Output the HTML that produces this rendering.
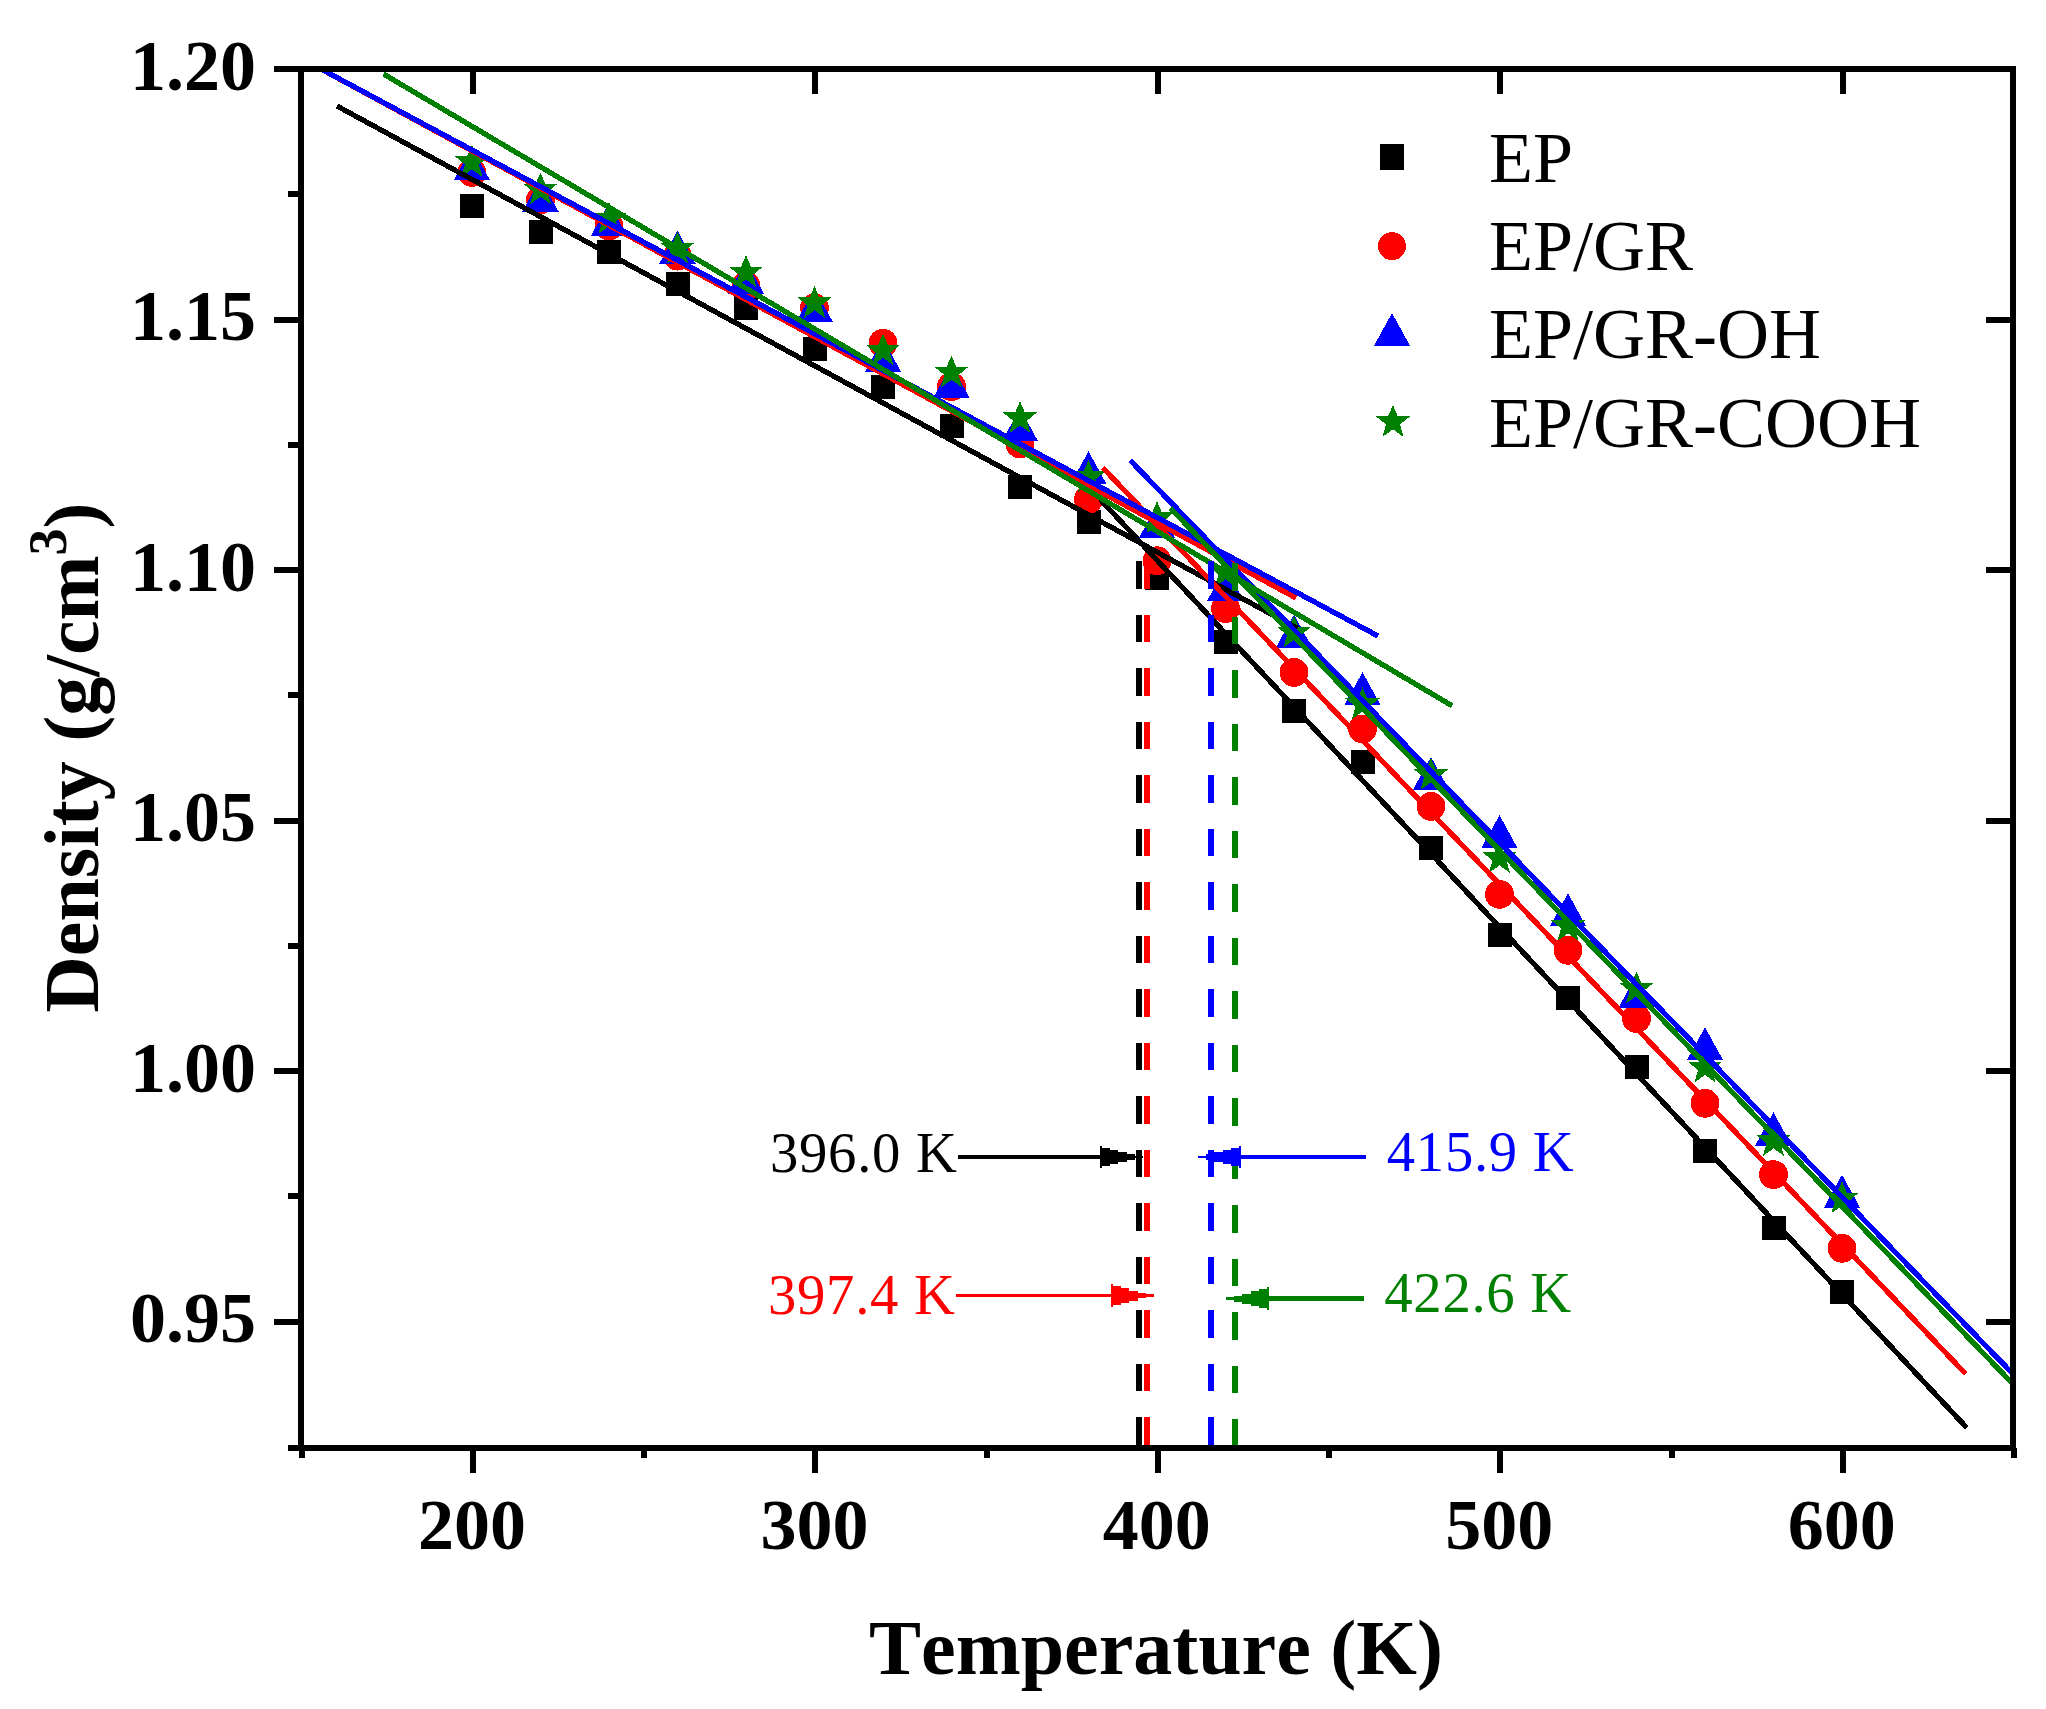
<!DOCTYPE html>
<html lang="en"><head><meta charset="utf-8"><title>Density vs Temperature</title>
<style>html,body{margin:0;padding:0;background:#fff}svg{display:block}text{font-family:"Liberation Serif",serif;font-kerning:none}.b{font-weight:bold}.tk{font-size:72px;font-weight:bold}.lg{font-size:72px}.an{font-size:56.7px;letter-spacing:0.7px}.ti{font-size:78px;font-weight:bold}</style></head><body>
<svg width="2046" height="1709" viewBox="0 0 2046 1709">
<rect width="2046" height="1709" fill="#fff"/>
<defs><clipPath id="cp"><rect x="298.0" y="66.0" width="1718.0" height="1385.0"/></clipPath></defs>
<g clip-path="url(#cp)" shape-rendering="crispEdges">
<rect x="459.9" y="194.1" width="24" height="24" fill="#000000"/>
<rect x="528.5" y="220.1" width="24" height="24" fill="#000000"/>
<rect x="597" y="240.1" width="24" height="24" fill="#000000"/>
<rect x="665.5" y="272.1" width="24" height="24" fill="#000000"/>
<rect x="734" y="295.7" width="24" height="24" fill="#000000"/>
<rect x="802.5" y="337.3" width="24" height="24" fill="#000000"/>
<rect x="871" y="375.3" width="24" height="24" fill="#000000"/>
<rect x="939.5" y="414.3" width="24" height="24" fill="#000000"/>
<rect x="1008" y="475.3" width="24" height="24" fill="#000000"/>
<rect x="1076.5" y="510.2" width="24" height="24" fill="#000000"/>
<rect x="1145" y="565.8" width="24" height="24" fill="#000000"/>
<rect x="1213.5" y="629.6" width="24" height="24" fill="#000000"/>
<rect x="1282" y="699.2" width="24" height="24" fill="#000000"/>
<rect x="1350.5" y="750.2" width="24" height="24" fill="#000000"/>
<rect x="1419" y="836.4" width="24" height="24" fill="#000000"/>
<rect x="1487.5" y="923.4" width="24" height="24" fill="#000000"/>
<rect x="1556" y="986.4" width="24" height="24" fill="#000000"/>
<rect x="1624.5" y="1054.5" width="24" height="24" fill="#000000"/>
<rect x="1693" y="1138.5" width="24" height="24" fill="#000000"/>
<rect x="1761.5" y="1215.6" width="24" height="24" fill="#000000"/>
<rect x="1830" y="1280.4" width="24" height="24" fill="#000000"/>
<circle cx="471.9" cy="172.5" r="14.4" fill="#ff0000"/>
<circle cx="540.5" cy="199.9" r="14.4" fill="#ff0000"/>
<circle cx="609" cy="226" r="14.4" fill="#ff0000"/>
<circle cx="677.5" cy="256.1" r="14.4" fill="#ff0000"/>
<circle cx="746" cy="286" r="14.4" fill="#ff0000"/>
<circle cx="814.5" cy="307.8" r="14.4" fill="#ff0000"/>
<circle cx="883" cy="343.2" r="14.4" fill="#ff0000"/>
<circle cx="951.5" cy="386.6" r="14.4" fill="#ff0000"/>
<circle cx="1020" cy="444" r="14.4" fill="#ff0000"/>
<circle cx="1088.5" cy="499.5" r="14.4" fill="#ff0000"/>
<circle cx="1157" cy="560.7" r="14.4" fill="#ff0000"/>
<circle cx="1225.5" cy="608.5" r="14.4" fill="#ff0000"/>
<circle cx="1294" cy="672.4" r="14.4" fill="#ff0000"/>
<circle cx="1362.5" cy="729" r="14.4" fill="#ff0000"/>
<circle cx="1431" cy="806.4" r="14.4" fill="#ff0000"/>
<circle cx="1499.5" cy="894.4" r="14.4" fill="#ff0000"/>
<circle cx="1568" cy="950.3" r="14.4" fill="#ff0000"/>
<circle cx="1636.5" cy="1018.5" r="14.4" fill="#ff0000"/>
<circle cx="1705" cy="1103.3" r="14.4" fill="#ff0000"/>
<circle cx="1773.5" cy="1174.6" r="14.4" fill="#ff0000"/>
<circle cx="1842" cy="1248.3" r="14.4" fill="#ff0000"/>
<polygon points="471.9,147.2 490.1,180.3 453.8,180.3" fill="#0000ff"/>
<polygon points="540.5,178.7 558.7,211.8 522.2,211.8" fill="#0000ff"/>
<polygon points="609,202.8 627.2,235.9 590.8,235.9" fill="#0000ff"/>
<polygon points="677.5,230.6 695.7,263.7 659.2,263.7" fill="#0000ff"/>
<polygon points="746,261.1 764.2,294.2 727.8,294.2" fill="#0000ff"/>
<polygon points="814.5,288.5 832.7,321.6 796.2,321.6" fill="#0000ff"/>
<polygon points="883,338.8 901.2,371.9 864.8,371.9" fill="#0000ff"/>
<polygon points="951.5,364.8 969.7,397.9 933.2,397.9" fill="#0000ff"/>
<polygon points="1020,408.3 1038.2,441.4 1001.8,441.4" fill="#0000ff"/>
<polygon points="1088.5,451.3 1106.7,484.4 1070.2,484.4" fill="#0000ff"/>
<polygon points="1157,505.1 1175.2,538.2 1138.8,538.2" fill="#0000ff"/>
<polygon points="1225.5,567.4 1243.7,600.5 1207.2,600.5" fill="#0000ff"/>
<polygon points="1294,614.6 1312.2,647.7 1275.8,647.7" fill="#0000ff"/>
<polygon points="1362.5,672.2 1380.7,705.3 1344.2,705.3" fill="#0000ff"/>
<polygon points="1431,756.8 1449.2,789.9 1412.8,789.9" fill="#0000ff"/>
<polygon points="1499.5,815.2 1517.7,848.3 1481.2,848.3" fill="#0000ff"/>
<polygon points="1568,893.2 1586.2,926.3 1549.8,926.3" fill="#0000ff"/>
<polygon points="1636.5,975.1 1654.7,1008.2 1618.2,1008.2" fill="#0000ff"/>
<polygon points="1705,1027.2 1723.2,1060.3 1686.8,1060.3" fill="#0000ff"/>
<polygon points="1773.5,1112.4 1791.7,1145.5 1755.2,1145.5" fill="#0000ff"/>
<polygon points="1842,1174.7 1860.2,1207.8 1823.8,1207.8" fill="#0000ff"/>
<polygon points="471.9,145 476.8,156.2 489.1,156.2 478.9,164.5 482.6,177 471.9,169.4 461.3,177 464.9,164.5 454.8,156.2 467.1,156.2" fill="#008000"/>
<polygon points="540.5,172.5 545.2,183.7 557.7,183.7 547.5,192 551.1,204.5 540.5,196.9 529.9,204.5 533.5,192 523.2,183.7 535.7,183.7" fill="#008000"/>
<polygon points="609,202 613.8,213.2 626.2,213.2 616,221.5 619.6,234 609,226.4 598.4,234 602,221.5 591.8,213.2 604.2,213.2" fill="#008000"/>
<polygon points="677.5,231.5 682.2,242.7 694.7,242.7 684.5,251 688.1,263.5 677.5,255.9 666.9,263.5 670.5,251 660.2,242.7 672.7,242.7" fill="#008000"/>
<polygon points="746,255.3 750.8,266.5 763.2,266.5 753,274.8 756.6,287.3 746,279.7 735.4,287.3 739,274.8 728.8,266.5 741.2,266.5" fill="#008000"/>
<polygon points="814.5,286 819.2,297.2 831.7,297.2 821.5,305.5 825.1,318 814.5,310.4 803.9,318 807.5,305.5 797.2,297.2 809.7,297.2" fill="#008000"/>
<polygon points="883,333.5 887.8,344.7 900.2,344.7 890,353 893.6,365.5 883,357.9 872.4,365.5 876,353 865.8,344.7 878.2,344.7" fill="#008000"/>
<polygon points="951.5,355.5 956.2,366.7 968.7,366.7 958.5,375 962.1,387.5 951.5,379.9 940.9,387.5 944.5,375 934.2,366.7 946.7,366.7" fill="#008000"/>
<polygon points="1020,401.1 1024.8,412.3 1037.2,412.3 1027,420.6 1030.5,433.1 1020,425.5 1009.4,433.1 1013,420.6 1002.8,412.3 1015.2,412.3" fill="#008000"/>
<polygon points="1088.5,460 1093.2,471.2 1105.7,471.2 1095.5,479.5 1099,492 1088.5,484.4 1077.9,492 1081.5,479.5 1071.2,471.2 1083.7,471.2" fill="#008000"/>
<polygon points="1157,501.1 1161.8,512.3 1174.2,512.3 1164,520.6 1167.5,533.1 1157,525.5 1146.4,533.1 1150,520.6 1139.8,512.3 1152.2,512.3" fill="#008000"/>
<polygon points="1225.5,555 1230.2,566.2 1242.7,566.2 1232.5,574.5 1236,587 1225.5,579.4 1214.9,587 1218.5,574.5 1208.2,566.2 1220.7,566.2" fill="#008000"/>
<polygon points="1294,615.5 1298.8,626.7 1311.2,626.7 1301,635 1304.5,647.5 1294,639.9 1283.4,647.5 1287,635 1276.8,626.7 1289.2,626.7" fill="#008000"/>
<polygon points="1362.5,687.2 1367.2,698.4 1379.7,698.4 1369.5,706.7 1373,719.2 1362.5,711.6 1351.9,719.2 1355.5,706.7 1345.2,698.4 1357.7,698.4" fill="#008000"/>
<polygon points="1431,758 1435.8,769.2 1448.2,769.2 1438,777.5 1441.5,790 1431,782.4 1420.4,790 1424,777.5 1413.8,769.2 1426.2,769.2" fill="#008000"/>
<polygon points="1499.5,841 1504.2,852.2 1516.7,852.2 1506.5,860.5 1510,873 1499.5,865.4 1488.9,873 1492.5,860.5 1482.2,852.2 1494.7,852.2" fill="#008000"/>
<polygon points="1568,909 1572.8,920.2 1585.2,920.2 1575,928.5 1578.5,941 1568,933.4 1557.4,941 1561,928.5 1550.8,920.2 1563.2,920.2" fill="#008000"/>
<polygon points="1636.5,971.6 1641.2,982.8 1653.7,982.8 1643.5,991.1 1647,1003.6 1636.5,996 1625.9,1003.6 1629.5,991.1 1619.2,982.8 1631.7,982.8" fill="#008000"/>
<polygon points="1705,1050.5 1709.8,1061.7 1722.2,1061.7 1712,1070 1715.5,1082.5 1705,1074.9 1694.4,1082.5 1698,1070 1687.8,1061.7 1700.2,1061.7" fill="#008000"/>
<polygon points="1773.5,1124 1778.2,1135.2 1790.7,1135.2 1780.5,1143.5 1784,1156 1773.5,1148.4 1762.9,1156 1766.5,1143.5 1756.2,1135.2 1768.7,1135.2" fill="#008000"/>
<polygon points="1842,1181.3 1846.8,1192.5 1859.2,1192.5 1849,1200.8 1852.5,1213.3 1842,1205.7 1831.4,1213.3 1835,1200.8 1824.8,1192.5 1837.2,1192.5" fill="#008000"/>
<line x1="337" y1="106" x2="1297.5" y2="628.5" stroke="#000000" stroke-width="5.3" stroke-linecap="butt"/>
<line x1="1100.2" y1="499.3" x2="1966.6" y2="1427.6" stroke="#000000" stroke-width="5.3" stroke-linecap="butt"/>
<line x1="321" y1="69" x2="1296" y2="598" stroke="#ff0000" stroke-width="5.3" stroke-linecap="butt"/>
<line x1="1102.9" y1="467.8" x2="1965.6" y2="1373.8" stroke="#ff0000" stroke-width="5.3" stroke-linecap="butt"/>
<line x1="316" y1="66.3" x2="1378" y2="636" stroke="#0000ff" stroke-width="5.3" stroke-linecap="butt"/>
<line x1="1130.3" y1="460.4" x2="2016" y2="1377.1" stroke="#0000ff" stroke-width="5.3" stroke-linecap="butt"/>
<line x1="383.5" y1="74" x2="1452" y2="705.7" stroke="#008000" stroke-width="5.3" stroke-linecap="butt"/>
<line x1="1170.3" y1="508" x2="2016" y2="1387.2" stroke="#008000" stroke-width="5.3" stroke-linecap="butt"/>
<line x1="1139" y1="561" x2="1139" y2="1448" stroke="#000000" stroke-width="6" stroke-dasharray="27.6 25.9"/>
<line x1="1147" y1="561" x2="1147" y2="1448" stroke="#ff0000" stroke-width="6" stroke-dasharray="27.6 25.9"/>
<line x1="1211" y1="561" x2="1211" y2="1448" stroke="#0000ff" stroke-width="6" stroke-dasharray="27.6 25.9"/>
<line x1="1235" y1="563" x2="1235" y2="1448" stroke="#008000" stroke-width="6" stroke-dasharray="27.6 25.9"/>
</g>
<g shape-rendering="crispEdges">
<line x1="958" y1="1157" x2="1102" y2="1157" stroke="#000000" stroke-width="3.6"/>
<polygon points="1100,1145.8 1102,1145.8 1102,1147.7 1110.3,1147.7 1110.3,1149.7 1118.4,1149.7 1118.4,1152 1126.6,1152 1126.6,1154.1 1134.6,1154.1 1134.6,1155.6 1143,1155.6 1143,1158.4 1134.6,1158.4 1134.6,1159.9 1126.6,1159.9 1126.6,1162 1118.4,1162 1118.4,1164.3 1110.3,1164.3 1110.3,1166.3 1102,1166.3 1102,1168.2 1100,1168.2" fill="#000000"/>
<line x1="956" y1="1295.5" x2="1113" y2="1295.5" stroke="#ff0000" stroke-width="3.9"/>
<polygon points="1111,1284.3 1113,1284.3 1113,1286.2 1121.3,1286.2 1121.3,1288.2 1129.4,1288.2 1129.4,1290.5 1137.6,1290.5 1137.6,1292.6 1145.6,1292.6 1145.6,1294.1 1154,1294.1 1154,1296.9 1145.6,1296.9 1145.6,1298.4 1137.6,1298.4 1137.6,1300.5 1129.4,1300.5 1129.4,1302.8 1121.3,1302.8 1121.3,1304.8 1113,1304.8 1113,1306.7 1111,1306.7" fill="#ff0000"/>
<line x1="1366" y1="1157" x2="1239" y2="1157" stroke="#0000ff" stroke-width="4.4"/>
<polygon points="1241,1145.8 1239,1145.8 1239,1147.7 1230.7,1147.7 1230.7,1149.7 1222.6,1149.7 1222.6,1152 1214.4,1152 1214.4,1154.1 1206.4,1154.1 1206.4,1155.6 1198,1155.6 1198,1158.4 1206.4,1158.4 1206.4,1159.9 1214.4,1159.9 1214.4,1162 1222.6,1162 1222.6,1164.3 1230.7,1164.3 1230.7,1166.3 1239,1166.3 1239,1168.2 1241,1168.2" fill="#0000ff"/>
<line x1="1364" y1="1298.6" x2="1267" y2="1298.6" stroke="#008000" stroke-width="4.4"/>
<polygon points="1269,1287.4 1267,1287.4 1267,1289.3 1258.7,1289.3 1258.7,1291.3 1250.6,1291.3 1250.6,1293.6 1242.4,1293.6 1242.4,1295.7 1234.4,1295.7 1234.4,1297.2 1226,1297.2 1226,1300 1234.4,1300 1234.4,1301.5 1242.4,1301.5 1242.4,1303.6 1250.6,1303.6 1250.6,1305.9 1258.7,1305.9 1258.7,1307.9 1267,1307.9 1267,1309.8 1269,1309.8" fill="#008000"/>
</g>
<g stroke="#000" stroke-width="6" fill="none" shape-rendering="crispEdges">
<rect x="301.0" y="69.0" width="1712.0" height="1379.0"/>
<line x1="274" y1="69" x2="301" y2="69"/>
<line x1="274" y1="319.5" x2="301" y2="319.5"/>
<line x1="1986" y1="319.5" x2="2013" y2="319.5"/>
<line x1="274" y1="570" x2="301" y2="570"/>
<line x1="1986" y1="570" x2="2013" y2="570"/>
<line x1="274" y1="820.5" x2="301" y2="820.5"/>
<line x1="1986" y1="820.5" x2="2013" y2="820.5"/>
<line x1="274" y1="1071" x2="301" y2="1071"/>
<line x1="1986" y1="1071" x2="2013" y2="1071"/>
<line x1="274" y1="1321.5" x2="301" y2="1321.5"/>
<line x1="1986" y1="1321.5" x2="2013" y2="1321.5"/>
<line x1="288" y1="194.2" x2="301" y2="194.2"/>
<line x1="288" y1="444.7" x2="301" y2="444.7"/>
<line x1="288" y1="695.2" x2="301" y2="695.2"/>
<line x1="288" y1="945.8" x2="301" y2="945.8"/>
<line x1="288" y1="1196.2" x2="301" y2="1196.2"/>
<line x1="288" y1="1448" x2="301" y2="1448"/>
<line x1="472.9" y1="1448" x2="472.9" y2="1472.5"/>
<line x1="472.9" y1="69" x2="472.9" y2="94"/>
<line x1="815.4" y1="1448" x2="815.4" y2="1472.5"/>
<line x1="815.4" y1="69" x2="815.4" y2="94"/>
<line x1="1157.8" y1="1448" x2="1157.8" y2="1472.5"/>
<line x1="1157.8" y1="69" x2="1157.8" y2="94"/>
<line x1="1500.3" y1="1448" x2="1500.3" y2="1472.5"/>
<line x1="1500.3" y1="69" x2="1500.3" y2="94"/>
<line x1="1842.8" y1="1448" x2="1842.8" y2="1472.5"/>
<line x1="1842.8" y1="69" x2="1842.8" y2="94"/>
<line x1="301.6" y1="1448" x2="301.6" y2="1458"/>
<line x1="644.1" y1="1448" x2="644.1" y2="1458"/>
<line x1="986.6" y1="1448" x2="986.6" y2="1458"/>
<line x1="1329.1" y1="1448" x2="1329.1" y2="1458"/>
<line x1="1671.6" y1="1448" x2="1671.6" y2="1458"/>
<line x1="2014.1" y1="1448" x2="2014.1" y2="1458"/>
</g>
<text class="tk" x="256" y="89.5" text-anchor="end">1.20</text>
<text class="tk" x="256" y="340" text-anchor="end">1.15</text>
<text class="tk" x="256" y="590.5" text-anchor="end">1.10</text>
<text class="tk" x="256" y="841" text-anchor="end">1.05</text>
<text class="tk" x="256" y="1091.5" text-anchor="end">1.00</text>
<text class="tk" x="256" y="1342" text-anchor="end">0.95</text>
<text class="tk" x="471.9" y="1548.5" text-anchor="middle">200</text>
<text class="tk" x="814.4" y="1548.5" text-anchor="middle">300</text>
<text class="tk" x="1156.8" y="1548.5" text-anchor="middle">400</text>
<text class="tk" x="1499.3" y="1548.5" text-anchor="middle">500</text>
<text class="tk" x="1841.8" y="1548.5" text-anchor="middle">600</text>
<text class="ti" x="1156" y="1674" text-anchor="middle">Temperature (K)</text>
<text class="ti" transform="translate(97.5,757.5) rotate(-90)" text-anchor="middle">Density (g/cm<tspan font-size="54" dy="-31.5">3</tspan><tspan dy="31.5">)</tspan></text>
<g shape-rendering="crispEdges">
<rect x="1380" y="144" width="24" height="26" fill="#000000"/>
<circle cx="1392" cy="246.2" r="14" fill="#ff0000"/>
<polygon points="1392,313 1410.2,346.1 1373.8,346.1" fill="#0000ff"/>
<polygon points="1393,405 1397.8,416.2 1410.2,416.2 1400,424.5 1403.6,437 1393,429.4 1382.4,437 1386,424.5 1375.8,416.2 1388.2,416.2" fill="#008000"/>
</g>
<text class="lg" x="1489" y="182">EP</text>
<text class="lg" x="1489" y="270">EP/GR</text>
<text class="lg" x="1489" y="358">EP/GR-OH</text>
<text class="lg" x="1489" y="446.5">EP/GR-COOH</text>
<text class="an" x="770" y="1172" fill="#000000">396.0 K</text>
<text class="an" x="768" y="1314" fill="#ff0000">397.4 K</text>
<text class="an" x="1386.8" y="1170.7" fill="#0000ff">415.9 K</text>
<text class="an" x="1384.3" y="1312.3" fill="#008000">422.6 K</text>
</svg></body></html>
